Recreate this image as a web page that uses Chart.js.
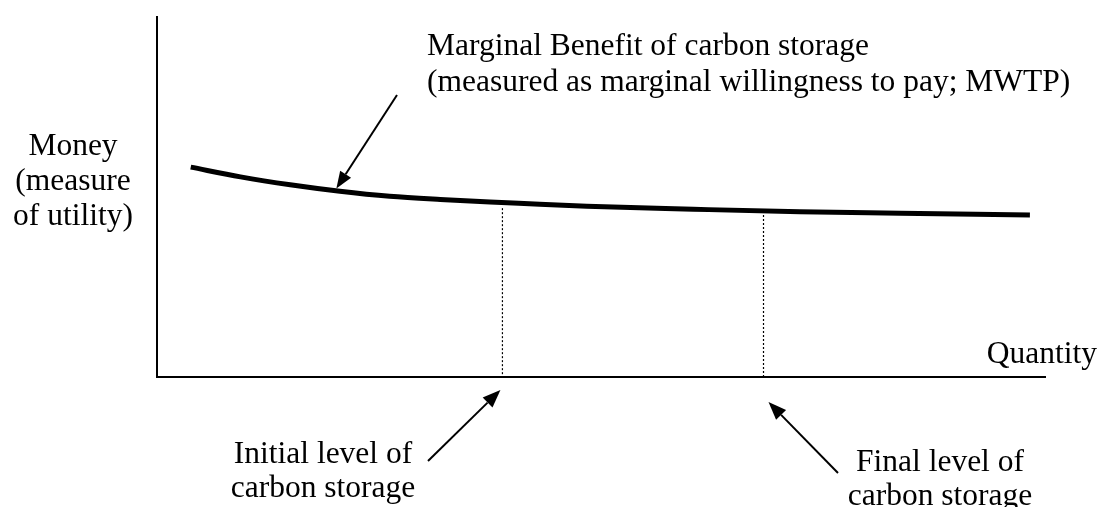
<!DOCTYPE html>
<html>
<head>
<meta charset="utf-8">
<script src="https://cdn.jsdelivr.net/npm/chart.js@4"></script>
<style>
  html, body { margin: 0; padding: 0; background: #fff; }
  #wrap { width: 1100px; height: 507px; }
</style>
</head>
<body>
<div id="wrap"><canvas id="c" width="1100" height="507"></canvas></div>
<script>
// Marginal benefit (MWTP) curve: quantity of carbon storage vs money
const quantity = [3.8, 9.4, 15.0, 20.6, 26.2, 31.9, 37.5, 43.1, 48.4, 60.4, 72.4, 83.7, 98.3];
const mwtp     = [58.3, 55.6, 53.4, 51.6, 50.2, 49.3, 48.6, 48.0, 47.4, 46.6, 45.9, 45.5, 45.0];

// Initial and final levels of carbon storage (dotted drop lines)
const levelNames  = ["Initial level of carbon storage", "Final level of carbon storage"];
const levelQty    = [38.9, 68.3];
const levelTop    = [46.9, 45.0];

// Text labels
const yAxisLabel  = ["Money", "(measure", "of utility)"];
const xAxisLabel  = "Quantity";
const curveLabel  = ["Marginal Benefit of carbon storage", "(measured as marginal willingness to pay; MWTP)"];
const initialLabel = ["Initial level of", "carbon storage"];
const finalLabel   = ["Final level of", "carbon storage"];

const FONT = '31.5px "Liberation Serif", "Times New Roman", serif';

function drawArrow(ctx, x1, y1, x2, y2, headLen, headW) {
  const ang = Math.atan2(y2 - y1, x2 - x1);
  const bx = x2 - headLen * Math.cos(ang), by = y2 - headLen * Math.sin(ang);
  ctx.beginPath();
  ctx.moveTo(x1, y1);
  ctx.lineTo(bx, by);
  ctx.lineWidth = 2;
  ctx.strokeStyle = '#000';
  ctx.stroke();
  const px = -Math.sin(ang) * headW / 2, py = Math.cos(ang) * headW / 2;
  ctx.beginPath();
  ctx.moveTo(x2, y2);
  ctx.lineTo(bx + px, by + py);
  ctx.lineTo(bx - px, by - py);
  ctx.closePath();
  ctx.fillStyle = '#000';
  ctx.fill();
}

const annotations = {
  id: 'annotations',
  afterDraw(chart) {
    const ctx = chart.ctx;
    const xs = chart.scales.x, ys = chart.scales.y;
    ctx.save();
    ctx.font = FONT;
    ctx.fillStyle = '#000';
    ctx.textBaseline = 'alphabetic';

    // y axis label (left, centred)
    ctx.textAlign = 'center';
    yAxisLabel.forEach((t, i) => ctx.fillText(t, 73, 155 + i * 35));

    // x axis label
    ctx.textAlign = 'right';
    ctx.fillText(xAxisLabel, 1097, 363);

    // curve label
    ctx.textAlign = 'left';
    curveLabel.forEach((t, i) => ctx.fillText(t, 427, 55 + i * 36));

    // initial / final labels
    ctx.textAlign = 'center';
    initialLabel.forEach((t, i) => ctx.fillText(t, 323, 463 + i * 34));
    finalLabel.forEach((t, i) => ctx.fillText(t, 940, 471 + i * 34));

    // arrows
    const bottom = chart.chartArea.bottom;
    const mbTipX = xs.getPixelForValue(20.2);
    const mbTipY = ys.getPixelForValue(51.8) - 2;
    drawArrow(ctx, 397, 95, mbTipX, mbTipY, 17, 13);

    const iTipX = xs.getPixelForValue(levelQty[0]) - 2;
    drawArrow(ctx, 428, 461, iTipX, bottom + 13, 18, 14);

    const fTipX = xs.getPixelForValue(levelQty[1]) + 5;
    drawArrow(ctx, 838, 473, fTipX, bottom + 25, 18, 14);

    ctx.restore();
  }
};

const curveData = quantity.map((q, i) => ({ x: q, y: mwtp[i] }));
const dropLines = levelQty.map((q, i) => ({
  label: levelNames[i],
  data: [{ x: q, y: levelTop[i] }, { x: q, y: 0 }],
  borderColor: '#000',
  borderWidth: 1.2,
  borderDash: [2, 2],
  pointRadius: 0,
  fill: false
}));

new Chart(document.getElementById('c'), {
  type: 'line',
  data: {
    datasets: [
      {
        label: 'Marginal Benefit of carbon storage',
        data: curveData,
        borderColor: '#000',
        borderWidth: 5,
        pointRadius: 0,
        cubicInterpolationMode: 'monotone',
        fill: false
      },
      ...dropLines
    ]
  },
  options: {
    responsive: false,
    animation: false,
    devicePixelRatio: 1,
    layout: { padding: { left: 157, right: 55, top: 17, bottom: 130 } },
    plugins: { legend: { display: false }, tooltip: { enabled: false } },
    scales: {
      x: {
        type: 'linear', min: 0, max: 100,
        ticks: { display: false },
        grid: { display: false, drawTicks: false },
        border: { display: true, color: '#000', width: 2 },
        afterFit(s) { s.height = 0; }
      },
      y: {
        type: 'linear', min: 0, max: 100,
        ticks: { display: false },
        grid: { display: false, drawTicks: false },
        border: { display: true, color: '#000', width: 2 },
        afterFit(s) { s.width = 0; }
      }
    }
  },
  plugins: [annotations]
});
</script>
</body>
</html>
